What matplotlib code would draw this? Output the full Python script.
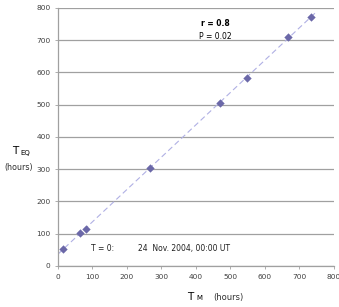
import numpy as np
import matplotlib
matplotlib.use("Agg")
import matplotlib.pyplot as plt

# hours since T = 0 (24 Nov. 2004, 00:00 UT)
t_m = [14, 64, 81, 267, 470, 548, 667, 733]
t_eq = [53, 102, 115, 304, 505, 583, 710, 772]
x_ticks = [0, 100, 200, 300, 400, 500, 600, 700, 800]
y_ticks = [0, 100, 200, 300, 400, 500, 600, 700, 800]

marker_color = "#6b68a8"
grid_color = "#a0a0a0"

fig = plt.figure(figsize=(3.39, 3.07), dpi=100)
ax = fig.add_axes([0.171, 0.134, 0.814, 0.840])

# linear trend line through the points
slope, icpt = np.polyfit(t_m, t_eq, 1)
xs = np.array([0, 752])
ax.plot(xs, slope * xs + icpt, color="#b0b0e4", lw=0.8, ls=(0, (5, 3)), zorder=2)
ax.scatter(t_m, t_eq, marker="D", s=18, color=marker_color, zorder=3, linewidths=0)

ax.set_xlim(0, 800)
ax.set_ylim(0, 800)
ax.set_xticks(x_ticks)
ax.set_yticks(y_ticks)
ax.yaxis.grid(True, color=grid_color, lw=0.9)
ax.set_axisbelow(True)
for s in ["top", "right"]:
    ax.spines[s].set_visible(False)
for s in ["left", "bottom"]:
    ax.spines[s].set_color(grid_color)
    ax.spines[s].set_linewidth(0.9)
ax.tick_params(axis="both", labelsize=5.3, colors="#404040", length=2.5, width=0.6,
               pad=3, direction="out")
ax.tick_params(axis="both", color=grid_color)

ax.text(455, 752, "r = 0.8", fontsize=5.5, fontweight="bold", ha="center", va="center")
ax.text(455, 710, "P = 0.02", fontsize=5.5, ha="center", va="center")
ax.text(130, 55, "T = 0:", fontsize=5.5, ha="center", va="center", color="#202020")
ax.text(231, 55, "24  Nov. 2004, 00:00 UT", fontsize=5.5, ha="left", va="center",
        color="#202020")

# axis labels: big T with small-caps style subscript
fig.text(0.035, 0.508, "T", fontsize=7.5, ha="left", va="center")
fig.text(0.060, 0.503, "EQ", fontsize=5, ha="left", va="center")
fig.text(0.054, 0.455, "(hours)", fontsize=5.8, ha="center", va="center", color="#303030")
fig.text(0.552, 0.015, "T", fontsize=7.5, ha="left", va="bottom")
fig.text(0.578, 0.018, "M", fontsize=5, ha="left", va="bottom")
fig.text(0.628, 0.017, "(hours)", fontsize=6, ha="left", va="bottom", color="#303030")

fig.savefig("out.png", dpi=100)
